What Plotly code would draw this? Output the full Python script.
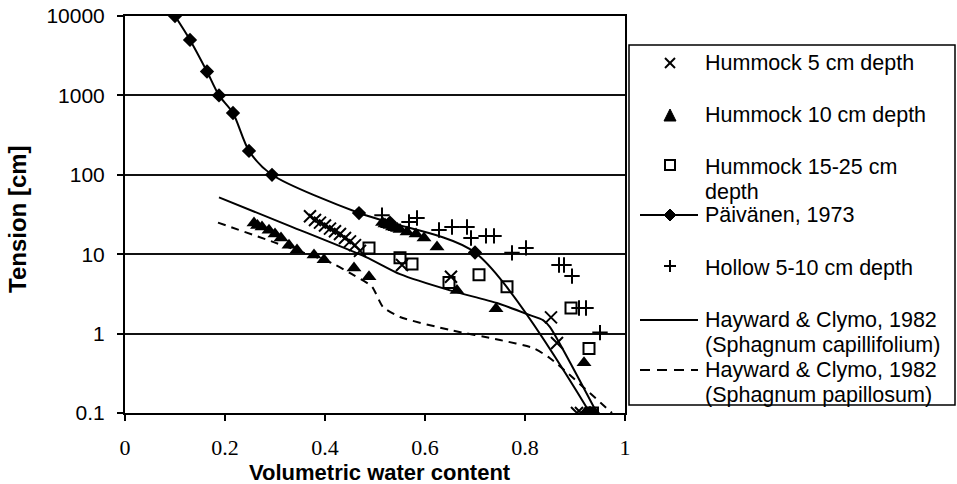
import plotly.graph_objects as go

# ---------------- data ----------------
h5_x = [0.37, 0.38, 0.39, 0.40, 0.41, 0.42, 0.43, 0.44, 0.45, 0.46, 0.47,
        0.554, 0.652, 0.852, 0.864, 0.904, 0.912]
h5_y = [30, 27, 25, 23, 21, 19.5, 18, 16, 14.5, 13, 11,
        7.3, 5.2, 1.6, 0.76, 0.1, 0.1]

h10_x = [0.258, 0.265, 0.274, 0.288, 0.30, 0.312, 0.328, 0.344, 0.378, 0.398,
         0.458, 0.488, 0.515, 0.52, 0.525, 0.53, 0.535, 0.54, 0.545, 0.55,
         0.564, 0.582, 0.598, 0.624, 0.664, 0.742, 0.918, 0.92, 0.928, 0.935, 0.94]
h10_y = [24.7, 23, 22, 20, 18, 16, 13, 11.3, 9.8, 8.5,
         6.7, 5.2, 25, 24, 23.5, 23, 22, 21.5, 21, 20.5,
         19, 18, 16, 12.3, 3.5, 2.05, 0.43, 0.1, 0.1, 0.1, 0.1]

h15_x = [0.488, 0.55, 0.574, 0.648, 0.708, 0.764, 0.892, 0.928, 0.935]
h15_y = [12, 9.0, 7.5, 4.4, 5.5, 3.9, 2.1, 0.65, 0.1]

paiv_x = [0.10, 0.13, 0.164, 0.188, 0.216, 0.248, 0.294, 0.468, 0.53, 0.70, 0.93]
paiv_y = [10000, 5000, 2000, 1000, 600, 200, 100, 33, 25, 10.5, 0.1]

hol_x = [0.514, 0.568, 0.584, 0.628, 0.654, 0.684, 0.692, 0.722, 0.738, 0.774,
         0.802, 0.868, 0.878, 0.894, 0.908, 0.922, 0.95]
hol_y = [31, 25.4, 28.6, 20.2, 22, 22, 16, 17, 17, 10.4,
         12, 7.3, 7.3, 5.3, 2.1, 2.1, 1.03]

hc_x = [0.188, 0.33, 0.482, 0.55, 0.65, 0.744, 0.81, 0.836, 0.85, 0.944]
hc_y = [52, 22.6, 9.2, 5.6, 3.5, 2.43, 1.71, 1.48, 1.21, 0.1]

hp_x = [0.186, 0.30, 0.414, 0.454, 0.494, 0.516, 0.55, 0.65, 0.75, 0.816, 0.85, 0.974]
hp_y = [25, 14.0, 7.7, 5.6, 3.9, 2.16, 1.62, 1.11, 0.83, 0.66, 0.49, 0.1]

x_ticks = [0, 0.2, 0.4, 0.6, 0.8, 1]
x_tick_text = ["0", "0.2", "0.4", "0.6", "0.8", "1"]
y_ticks = [0.1, 1, 10, 100, 1000, 10000]
y_tick_text = ["0.1", "1", "10", "100", "1000", "10000"]

x_title = "Volumetric water content"
y_title = "Tension [cm]"

legend_labels = [
    ["Hummock 5 cm depth"],
    ["Hummock 10 cm depth"],
    ["Hummock 15-25 cm", "depth"],
    ["Päivänen, 1973"],
    ["Hollow 5-10 cm depth"],
    ["Hayward & Clymo, 1982", "(Sphagnum capillifolium)"],
    ["Hayward & Clymo, 1982", "(Sphagnum papillosum)"],
]

# ---------------- layout geometry ----------------
W, H = 957, 484
L, T, PW, PH = 125, 16, 500, 397
SANS = "Liberation Sans, Arial, sans-serif"
SERIF = "Liberation Serif, Times New Roman, serif"


def px(xp):
    """window pixel x -> paper x"""
    return (xp - L) / PW


def py(yp):
    """window pixel y -> paper y"""
    return (T + PH - yp) / PH


fig = go.Figure()

fig.add_trace(go.Scatter(x=hc_x, y=hc_y, mode="lines", name="Hayward capillifolium",
                         line=dict(color="black", width=2, shape="spline", smoothing=0.6),
                         showlegend=False))
fig.add_trace(go.Scatter(x=hp_x, y=hp_y, mode="lines", name="Hayward papillosum",
                         line=dict(color="black", width=2, dash="8px,6px", shape="spline",
                                   smoothing=0.6),
                         showlegend=False))
fig.add_trace(go.Scatter(x=paiv_x, y=paiv_y, mode="lines+markers", name="Päivänen, 1973",
                         line=dict(color="black", width=2, shape="spline", smoothing=0.8),
                         marker=dict(symbol="diamond", size=11, color="black"),
                         showlegend=False))
fig.add_trace(go.Scatter(x=hol_x, y=hol_y, mode="markers", name="Hollow 5-10 cm depth",
                         marker=dict(symbol="cross-thin", size=11,
                                     line=dict(color="black", width=2)),
                         showlegend=False))
fig.add_trace(go.Scatter(x=h15_x, y=h15_y, mode="markers", name="Hummock 15-25 cm depth",
                         marker=dict(symbol="square-open", size=11, color="black",
                                     line=dict(color="black", width=2)),
                         showlegend=False))
fig.add_trace(go.Scatter(x=h10_x, y=h10_y, mode="markers", name="Hummock 10 cm depth",
                         marker=dict(symbol="triangle-up", size=13, color="black"),
                         showlegend=False))
fig.add_trace(go.Scatter(x=h5_x, y=h5_y, mode="markers", name="Hummock 5 cm depth",
                         marker=dict(symbol="x-thin", size=12,
                                     line=dict(color="black", width=2)),
                         showlegend=False))

# ---------------- hand-drawn legend (box, samples, text) ----------------
shapes = []
shapes.append(dict(type="rect", xref="paper", yref="paper",
                   x0=px(629), x1=px(955), y0=py(405), y1=py(45),
                   line=dict(color="black", width=1.5), fillcolor="white", layer="below"))

line_y = [63, 115, 167, 215, 268, 320, 370]
sx = 670
# x marker
shapes += [dict(type="line", xref="paper", yref="paper", x0=px(sx - 5), x1=px(sx + 5),
                y0=py(line_y[0] - 5), y1=py(line_y[0] + 5), line=dict(color="black", width=2)),
           dict(type="line", xref="paper", yref="paper", x0=px(sx - 5), x1=px(sx + 5),
                y0=py(line_y[0] + 5), y1=py(line_y[0] - 5), line=dict(color="black", width=2))]
# triangle
ty = line_y[1]
shapes.append(dict(type="path", xref="paper", yref="paper",
                   path=f"M {px(sx-6)},{py(ty+6)} L {px(sx+6)},{py(ty+6)} L {px(sx)},{py(ty-6)} Z",
                   fillcolor="black", line=dict(color="black", width=1)))
# open square
qy = line_y[2] - 2
shapes.append(dict(type="rect", xref="paper", yref="paper", x0=px(sx - 5), x1=px(sx + 5),
                   y0=py(qy + 5), y1=py(qy - 5), line=dict(color="black", width=2)))
# Päivänen line + diamond
dy = line_y[3]
shapes.append(dict(type="line", xref="paper", yref="paper", x0=px(640), x1=px(698),
                   y0=py(dy), y1=py(dy), line=dict(color="black", width=2)))
shapes.append(dict(type="path", xref="paper", yref="paper",
                   path=(f"M {px(sx-6)},{py(dy)} L {px(sx)},{py(dy-6)} L {px(sx+6)},{py(dy)} "
                         f"L {px(sx)},{py(dy+6)} Z"),
                   fillcolor="black", line=dict(color="black", width=1)))
# plus
cy = line_y[4] - 2
shapes += [dict(type="line", xref="paper", yref="paper", x0=px(sx - 6), x1=px(sx + 6),
                y0=py(cy), y1=py(cy), line=dict(color="black", width=2)),
           dict(type="line", xref="paper", yref="paper", x0=px(sx), x1=px(sx),
                y0=py(cy - 6), y1=py(cy + 6), line=dict(color="black", width=2))]
# solid line
shapes.append(dict(type="line", xref="paper", yref="paper", x0=px(640), x1=px(698),
                   y0=py(line_y[5]), y1=py(line_y[5]), line=dict(color="black", width=2)))
# dashed line
shapes.append(dict(type="line", xref="paper", yref="paper", x0=px(640), x1=px(698),
                   y0=py(line_y[6]), y1=py(line_y[6]),
                   line=dict(color="black", width=2, dash="10px,7px")))

annotations = []
text_rows = []
for yy, lab in zip(line_y, legend_labels):
    for k, t in enumerate(lab):
        text_rows.append((yy + 25 * k, t))
for yy, t in text_rows:
    annotations.append(dict(xref="paper", yref="paper", x=px(703), y=py(yy),
                            xanchor="left", yanchor="middle", text=t, showarrow=False,
                            font=dict(family=SANS, size=21.5, color="black")))

# axis titles
annotations.append(dict(xref="paper", yref="paper", x=px(380), y=py(472),
                        xanchor="center", yanchor="middle", text=f"<b>{x_title}</b>",
                        showarrow=False, font=dict(family=SANS, size=22, color="black")))
annotations.append(dict(xref="paper", yref="paper", x=px(17), y=py(219),
                        xanchor="center", yanchor="middle", text=f"<b>{y_title}</b>",
                        textangle=-90, showarrow=False,
                        font=dict(family=SANS, size=24, color="black")))

fig.update_layout(
    width=W, height=H,
    margin=dict(l=L, r=W - L - PW, t=T, b=H - T - PH, autoexpand=False),
    paper_bgcolor="white", plot_bgcolor="white",
    showlegend=False,
    shapes=shapes,
    annotations=annotations,
    xaxis=dict(range=[0, 1], tickvals=x_ticks, ticktext=x_tick_text, automargin=False,
               ticks="outside", ticklen=6, tickwidth=2, tickcolor="black",
               showline=True, linecolor="black", linewidth=2, mirror=True,
               showgrid=False, zeroline=False,
               tickfont=dict(family=SERIF, size=22, color="black"),
               ticklabelstandoff=8),
    yaxis=dict(type="log", range=[-1, 4], tickvals=y_ticks, ticktext=y_tick_text,
               automargin=False, ticklabeloverflow="allow",
               ticks="outside", ticklen=6, tickwidth=2, tickcolor="black",
               showline=True, linecolor="black", linewidth=2, mirror=True,
               showgrid=True, gridcolor="#111111", gridwidth=1.5, zeroline=False,
               tickfont=dict(family=SANS, size=21, color="black"),
               ticklabelstandoff=8),
)

# remove the default 8px page margin so the figure sits at the window's top-left corner
fig.write_html("out.html", config={"displayModeBar": False},
               post_script="document.body.style.margin='0px';")
